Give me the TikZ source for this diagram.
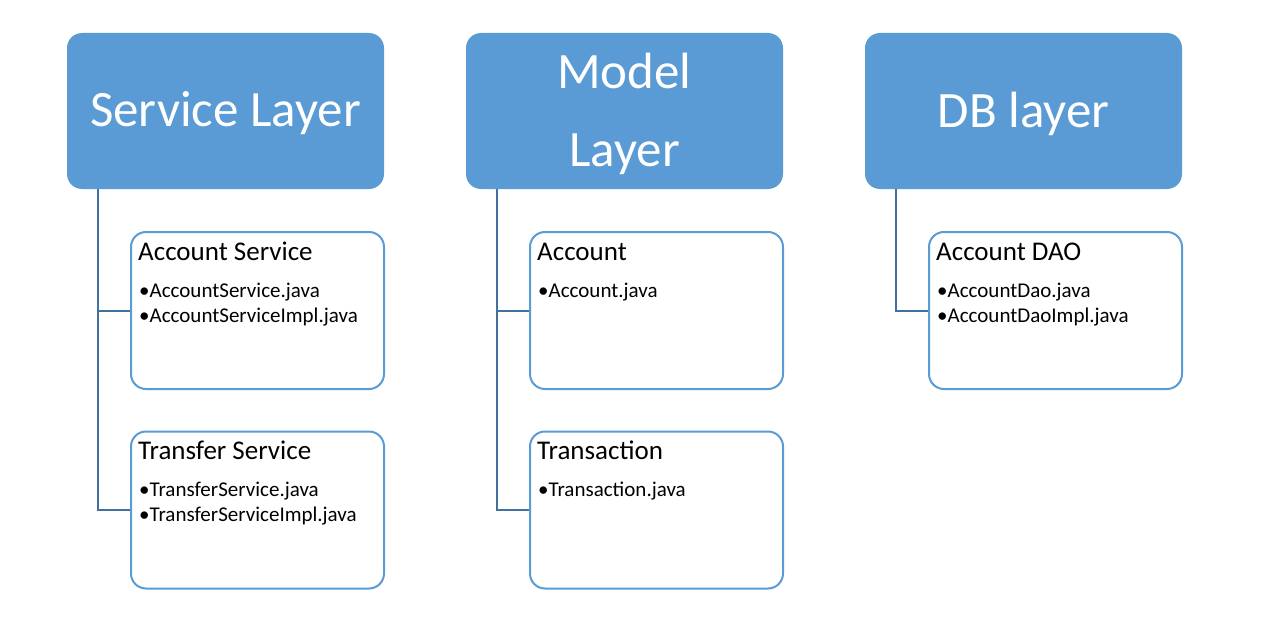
\documentclass[tikz,border=0pt]{standalone}
\usepackage{fontspec}
\setmainfont{Carlito}
\usetikzlibrary{calc}
\definecolor{fillblue}{HTML}{5B9BD5}
\definecolor{lineblue}{HTML}{41719C}
\begin{document}
\begin{tikzpicture}[x=1pt,y=-1pt,
 layer/.style={draw=none, fill=fillblue, rounded corners=15pt, minimum width=317pt, minimum height=156pt, inner sep=0pt},
 layertext/.style={text=white, font=\fontsize{51}{78}\selectfont, align=center, inner sep=0pt},
 item/.style={draw=fillblue, line width=2pt, rounded corners=15pt, fill=white, minimum width=253pt, minimum height=157pt, inner sep=0pt},
 conn/.style={draw=lineblue, line width=2pt},
 ttl/.style={anchor=base west, inner sep=0pt, font=\fontsize{27}{30}\selectfont},
 bul/.style={anchor=base west, inner sep=0pt, font=\fontsize{21}{25}\selectfont}
]
\path[use as bounding box, fill=white] (0,0) rectangle (1264,618);

% top layers
\node[layer] (svc) at (225.5,111) {};
\node[layer] (mdl) at (624.5,111) {};
\node[layer] (db)  at (1023.5,111) {};
\node[layertext] (svc-t) at ($(svc.center)+(0,2.5)$) {Service Layer};
\node[layertext] (mdl-t) at ($(mdl.center)+(0,2.5)$) {Model\\Layer};
\node[layertext] (db-t)  at ($(db.center)+(0,2.5)$) {DB layer};

% items
\node[item] (as) at (257.5,310.5) {};
\node[item] (ts) at (257.5,510) {};
\node[item] (ac) at (656.5,310.5) {};
\node[item] (tr) at (656.5,510) {};
\node[item] (dao) at (1055.5,310.5) {};

% connectors
\coordinate (svcs) at ($(svc.south west)+(31,0)$);
\coordinate (mdls) at ($(mdl.south west)+(31,0)$);
\coordinate (dbs)  at ($(db.south west)+(31,0)$);
\draw[conn] (svcs) |- (as.west);
\draw[conn] (svcs) |- (ts.west);
\draw[conn] (mdls) |- (ac.west);
\draw[conn] (mdls) |- (tr.west);
\draw[conn] (dbs) |- (dao.west);

% texts
\node[ttl] (as-t) at ($(as.north west)+(8,29)$) {Account Service};
\node[bul] (as-1) at ($(as.north west)+(9,66)$) {•AccountService.java};
\node[bul] (as-2) at ($(as.north west)+(9,91)$) {•AccountServiceImpl.java};

\node[ttl] (ts-t) at ($(ts.north west)+(8,29)$) {Transfer Service};
\node[bul] (ts-1) at ($(ts.north west)+(9,66)$) {•TransferService.java};
\node[bul] (ts-2) at ($(ts.north west)+(9,91)$) {•TransferServiceImpl.java};

\node[ttl] (ac-t) at ($(ac.north west)+(8,29)$) {Account};
\node[bul] (ac-1) at ($(ac.north west)+(9,66)$) {•Account.java};

\node[ttl] (tr-t) at ($(tr.north west)+(8,29)$) {Transaction};
\node[bul] (tr-1) at ($(tr.north west)+(9,66)$) {•Transaction.java};

\node[ttl] (dao-t) at ($(dao.north west)+(8,29)$) {Account DAO};
\node[bul] (dao-1) at ($(dao.north west)+(9,66)$) {•AccountDao.java};
\node[bul] (dao-2) at ($(dao.north west)+(9,91)$) {•AccountDaoImpl.java};
\end{tikzpicture}
\end{document}
